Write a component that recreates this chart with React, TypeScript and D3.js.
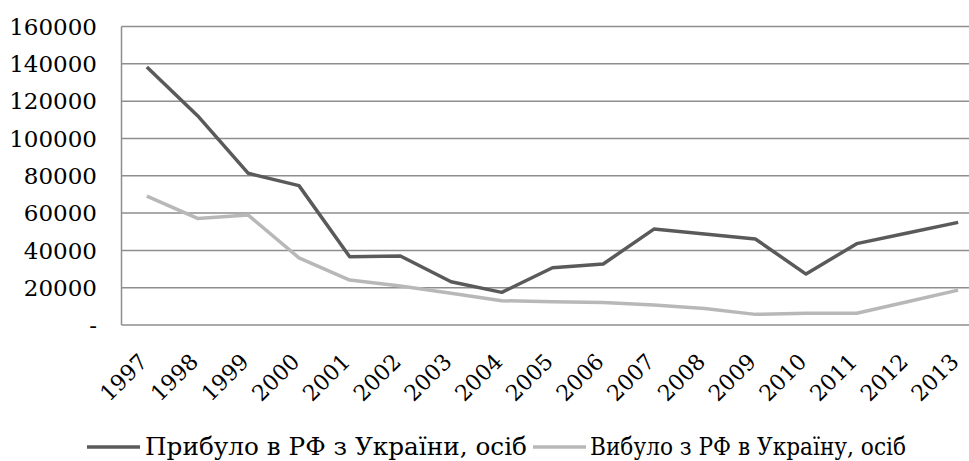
import * as React from "react";
import * as d3 from "d3";

const years = ["1997", "1998", "1999", "2000", "2001", "2002", "2003", "2004", "2005", "2006", "2007", "2008", "2009", "2010", "2011", "2012", "2013"];
const arrived = [138300, 112200, 81300, 74700, 36600, 37000, 23200, 17500, 30700, 32700, 51400, 48800, 46100, 27300, 43600, 49300, 55000];
const departed = [69100, 57100, 58900, 36000, 24100, 20900, 17000, 13000, 12500, 12000, 10700, 8900, 5700, 6300, 6300, 12500, 18700];
const yTicks = [0, 20000, 40000, 60000, 80000, 100000, 120000, 140000, 160000];
const seriesNames = ["Прибуло в РФ з України, осіб", "Вибуло з РФ в Україну, осіб"];

const width = 969;
const height = 461;
const font = "'DejaVu Serif', serif";

const App = () => {
  const x = d3.scaleBand().domain(years).range([121.5, 983.5]);
  const y = d3.scaleLinear().domain([0, 160000]).range([325, 26.5]);
  const cx = (yr: string) => (x(yr) as number) + x.bandwidth() / 2;

  const line = d3
    .line<number>()
    .x((d, i) => cx(years[i]))
    .y(d => y(d));

  const series = [
    { name: seriesNames[0], values: arrived, color: "#5a5a5a", lx: 87, tx: 145, tw: 382 },
    { name: seriesNames[1], values: departed, color: "#b8b8b8", lx: 533, tx: 590, tw: 316 },
  ];

  return (
    <svg width={width} height={height} style={{ position: "absolute", left: 0, top: 0, background: "#fff" }}>
      {/* gridlines */}
      {yTicks.map(t => (
        <line key={t} x1={121.5} x2={983.5} y1={y(t)} y2={y(t)} stroke="#8e8e8e" strokeWidth={1.5} />
      ))}
      <line x1={121.5} x2={121.5} y1={y(160000)} y2={y(0)} stroke="#8e8e8e" strokeWidth={1.5} />

      {/* y labels */}
      {yTicks.map(t => (
        <text key={t} x={97} y={y(t)} dy="0.36em" textAnchor="end" fontFamily={font} fontSize={23} fill="#000">
          {t === 0 ? "-" : t}
        </text>
      ))}

      {/* x labels */}
      {years.map(yr => (
        <text key={yr} transform={`translate(${cx(yr) + 2},363) rotate(-45)`} textAnchor="end" fontFamily={font} fontSize={22} fill="#000">
          {yr}
        </text>
      ))}

      {/* lines */}
      {series.map(s => (
        <path key={s.name} d={line(s.values) as string} fill="none" stroke={s.color} strokeWidth={3.5} strokeLinejoin="round" />
      ))}

      {/* legend */}
      {series.map(s => (
        <g key={s.name}>
          <line x1={s.lx} x2={s.lx + 53} y1={447} y2={447} stroke={s.color} strokeWidth={3.5} />
          <text x={s.tx} y={455} fontFamily={font} fontSize={24} fill="#000" textLength={s.tw} lengthAdjust="spacingAndGlyphs">
            {s.name}
          </text>
        </g>
      ))}
    </svg>
  );
};

export default App;
